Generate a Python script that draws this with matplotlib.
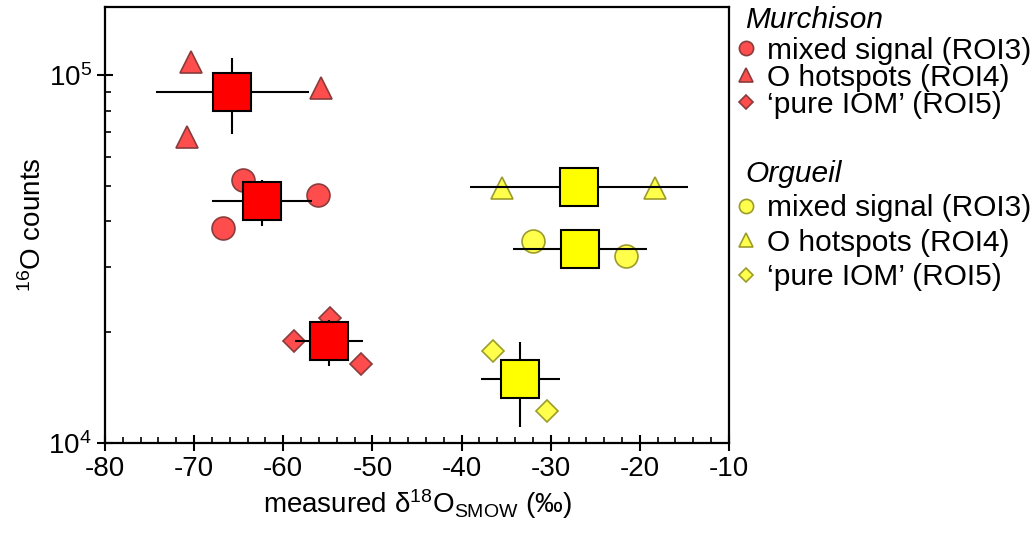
import numpy as np
import matplotlib
matplotlib.use('Agg')
import matplotlib.pyplot as plt
from matplotlib.ticker import LogLocator, MultipleLocator, NullFormatter

plt.rcParams['font.family'] = ['Liberation Sans', 'DejaVu Sans']
plt.rcParams['mathtext.fontset'] = 'custom'
plt.rcParams['mathtext.rm'] = 'Liberation Sans'
plt.rcParams['mathtext.it'] = 'Liberation Sans:italic'
plt.rcParams['mathtext.bf'] = 'Liberation Sans:bold'
plt.rcParams['axes.unicode_minus'] = False

# Murchison (red) individual measurements
murch_roi3_x = [-64.5, -56.1, -66.8]
murch_roi3_y = [5.18e4, 4.72e4, 3.83e4]
murch_roi4_x = [-70.3, -55.8, -70.8]
murch_roi4_y = [1.087e5, 9.2e4, 6.8e4]
murch_roi5_x = [-58.8, -54.7, -51.3]
murch_roi5_y = [1.89e4, 2.18e4, 1.64e4]
# Murchison averages (ROI3, ROI4, ROI5)
murch_mean_x = [-62.4, -65.7, -54.9]
murch_mean_y = [4.54e4, 9.01e4, 1.89e4]
murch_xerr = [5.6, 8.6, 3.8]
murch_yerr = [6.5e3, 2.1e4, 2.7e3]

# Orgueil (yellow) individual measurements
org_roi3_x = [-32.0, -21.5]
org_roi3_y = [3.54e4, 3.21e4]
org_roi4_x = [-35.5, -18.3]
org_roi4_y = [4.92e4, 4.92e4]
org_roi5_x = [-36.5, -30.45]
org_roi5_y = [1.77e4, 1.22e4]
# Orgueil averages (ROI3, ROI4, ROI5)
org_mean_x = [-26.7, -26.8, -33.4]
org_mean_y = [3.36e4, 4.95e4, 1.49e4]
org_xerr = [7.5, 12.2, 4.4]
org_yerr = [1.7e3, 0.0, 3.9e3]

labels = ['mixed signal (ROI3)', 'O hotspots (ROI4)', '\u2018pure IOM\u2019 (ROI5)']

red_face = (1.0, 0.0, 0.0, 0.7)
red_edge = '#8a3c3c'
yel_face = (1.0, 1.0, 0.0, 0.7)
yel_edge = '#9c9c2c'

fig = plt.figure(figsize=(10.34, 5.39), dpi=100)
ax = fig.add_axes([0.1015, 0.1787, 0.6035, 0.8083])

def small(x, y, marker, ms, face, edge):
    h, = ax.plot(x, y, linestyle='none', marker=marker, ms=ms,
                 markerfacecolor=face, markeredgecolor=edge, mew=1.2, zorder=2)
    return h

mh = [small(murch_roi3_x, murch_roi3_y, 'o', 16.5, red_face, red_edge),
      small(murch_roi4_x, murch_roi4_y, '^', 15.5, red_face, red_edge),
      small(murch_roi5_x, murch_roi5_y, 'D', 11.2, red_face, red_edge)]
oh = [small(org_roi3_x, org_roi3_y, 'o', 16.5, yel_face, yel_edge),
      small(org_roi4_x, org_roi4_y, '^', 15.5, yel_face, yel_edge),
      small(org_roi5_x, org_roi5_y, 'D', 11.2, yel_face, yel_edge)]

ax.errorbar(murch_mean_x, murch_mean_y, xerr=murch_xerr, yerr=murch_yerr,
            fmt='none', ecolor='black', elinewidth=1.5, capsize=0, zorder=3)
ax.errorbar(org_mean_x, org_mean_y, xerr=org_xerr, yerr=org_yerr,
            fmt='none', ecolor='black', elinewidth=1.5, capsize=0, zorder=3)
ax.plot(murch_mean_x, murch_mean_y, linestyle='none', marker='s', ms=27,
        markerfacecolor='#ff0000', markeredgecolor='black', mew=1.5, zorder=4)
ax.plot(org_mean_x, org_mean_y, linestyle='none', marker='s', ms=27,
        markerfacecolor='#ffff00', markeredgecolor='black', mew=1.5, zorder=4)

ax.set_yscale('log')
ax.set_xlim(-80, -10)
ax.set_ylim(1e4, 1.53e5)

ax.xaxis.set_major_locator(MultipleLocator(10))
ax.xaxis.set_minor_locator(MultipleLocator(2))
ax.yaxis.set_major_locator(LogLocator(base=10, numticks=10))
ax.yaxis.set_minor_locator(LogLocator(base=10, subs=np.arange(2, 10), numticks=10))
ax.yaxis.set_minor_formatter(NullFormatter())

ax.tick_params(which='major', direction='inout', length=11, width=1.5,
               labelsize=20, pad=4, top=False, right=False)
ax.tick_params(which='minor', direction='in', length=4.5, width=1.2,
               top=False, right=False)
for s in ax.spines.values():
    s.set_linewidth(1.6)

ax.set_xlabel('measured \u03b4$^{\\mathrm{18}}$O$_{\\mathrm{SMOW}}$ (\u2030)', fontsize=20, labelpad=4)
ax.set_ylabel('$^{\\mathrm{16}}$O counts', fontsize=20, labelpad=1)

# legends
fig.text(0.721, 0.962, 'Murchison', fontsize=21.5, style='italic', va='center', ha='left')
fig.text(0.721, 0.678, 'Orgueil', fontsize=21.5, style='italic', va='center', ha='left')
common = dict(loc='upper left', frameon=False, markerscale=0.62, handlelength=0.6,
              handletextpad=0.4, borderpad=0, borderaxespad=0,
              fontsize=21.5, bbox_transform=fig.transFigure)
fig.legend(handles=mh, labels=labels, bbox_to_anchor=(0.713, 0.932),
           labelspacing=-0.03, **common)
fig.legend(handles=oh, labels=labels, bbox_to_anchor=(0.713, 0.640),
           labelspacing=0.22, **common)

fig.savefig('out.png', dpi=100)
